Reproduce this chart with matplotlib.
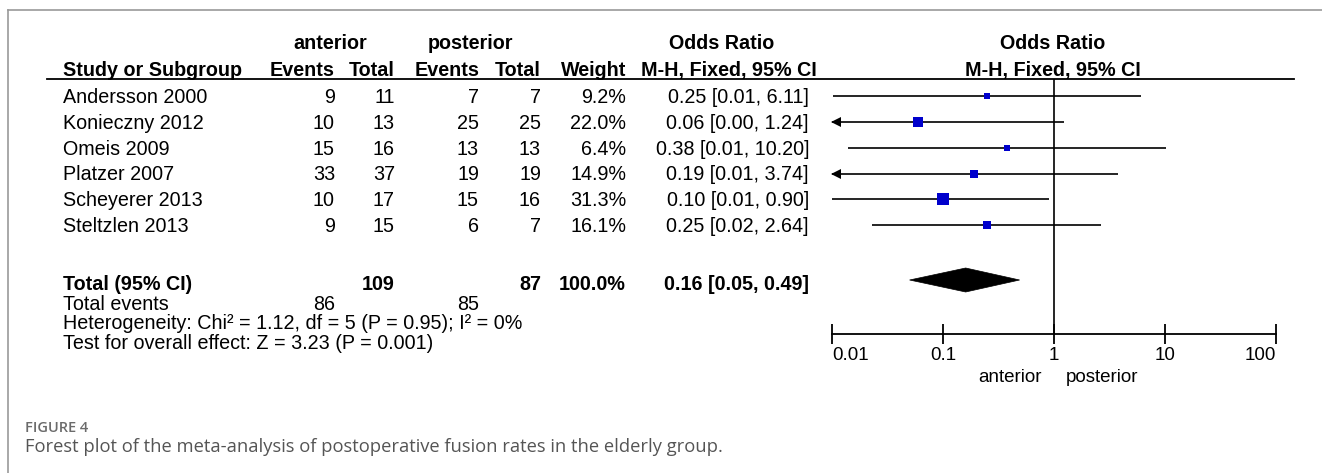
import numpy as np
import matplotlib
matplotlib.use("Agg")
import matplotlib.pyplot as plt
from matplotlib.lines import Line2D
from matplotlib.patches import Polygon
from matplotlib.transforms import blended_transform_factory

# ---------------- data ----------------
studies = ["Andersson 2000", "Konieczny 2012", "Omeis 2009", "Platzer 2007",
           "Scheyerer 2013", "Steltzlen 2013"]
events_ant = [9, 10, 15, 33, 10, 9]
total_ant = [11, 13, 16, 37, 17, 15]
events_post = [7, 25, 13, 19, 15, 6]
total_post = [7, 25, 13, 19, 16, 7]
weights = [9.2, 22.0, 6.4, 14.9, 31.3, 16.1]
odds = [0.25, 0.06, 0.38, 0.19, 0.10, 0.25]
ci_low = [0.0103, 0.003, 0.014, 0.0097, 0.0101, 0.023]
ci_high = [6.11, 1.24, 10.20, 3.74, 0.90, 2.64]
pooled_or = 0.16
pooled_low = 0.05
pooled_high = 0.49
pooled_weight = 100.0
heterogeneity = "Heterogeneity: Chi\u00b2 = 1.12, df = 5 (P = 0.95); I\u00b2 = 0%"
overall = "Test for overall effect: Z = 3.23 (P = 0.001)"
group_a = "anterior"
group_b = "posterior"
tick_values = [0.01, 0.1, 1, 10, 100]
tick_labels = ["0.01", "0.1", "1", "10", "100"]
caption_title = "FIGURE 4"
caption_text = ("Forest plot of the meta-analysis of postoperative fusion rates "
                "in the elderly group.")

# ---------------- layout ----------------
W, H = 1322, 473
FONT = "Liberation Sans"
FS = 14.2
fig = plt.figure(figsize=(W / 100, H / 100), dpi=100)
fig.patch.set_facecolor("white")


def fx(px):
    return px / W


def fy(py):
    return 1 - py / H


ROW0, ROWH = 97.5, 25.8


def r(py):
    return (py - ROW0) / ROWH


ax_l, ax_r, ax_t, ax_b = 832, 1276, 79, 334
ax = fig.add_axes([fx(ax_l), fy(ax_b), (ax_r - ax_l) / W, (ax_b - ax_t) / H])
ax.set_xscale("log")
ax.set_xlim(tick_values[0], tick_values[-1])
ax.set_ylim(r(ax_b), r(ax_t))
ax.patch.set_visible(False)
for s in ["top", "left", "right"]:
    ax.spines[s].set_visible(False)
ax.spines["bottom"].set_linewidth(1.3)
ax.set_yticks([])
ax.set_xticks(tick_values)
ax.set_xticklabels(tick_labels)
ax.xaxis.set_minor_locator(matplotlib.ticker.NullLocator())
ax.tick_params(axis="x", direction="inout", length=15, width=1.3, pad=2,
               labelsize=13.5)
xl = ax.get_xticklabels()
for lab in xl:
    lab.set_fontfamily(FONT)
xl[0].set_horizontalalignment("left")
xl[-1].set_horizontalalignment("right")

ax.axvline(1, color="black", lw=1.2)

blue = "#0000CC"
for i in range(len(studies)):
    y = i - 0.05
    lo = max(ci_low[i], tick_values[0])
    ax.plot([lo, ci_high[i]], [y, y], color="black", lw=1.2, solid_capstyle="butt")
    if ci_low[i] < tick_values[0]:
        ax.plot([tick_values[0] * 10 ** (4.5 / 111)], [y], marker="<", ms=7,
                color="black", mew=0, clip_on=False)
    ax.plot([odds[i]], [y], marker="s", ms=1.48 * np.sqrt(weights[i]),
            color=blue, mew=0, zorder=3)

# pooled diamond
yd = r(280)
hd = 12 / ROWH
diamond = Polygon([[pooled_low, yd], [pooled_or, yd - hd], [pooled_high, yd],
                   [pooled_or, yd + hd]], closed=True, facecolor="black",
                  edgecolor="black", lw=0.5, zorder=3)
ax.add_patch(diamond)

# ---------------- table text ----------------
tr = blended_transform_factory(fig.transFigure, ax.transData)


def t(px, row, s, ha="right", bold=False, size=FS):
    fig.text(fx(px), row, s, transform=tr, ha=ha, va="center",
             fontsize=size, fontfamily=FONT,
             fontweight="bold" if bold else "normal", color="black")


col_ev_a, col_tot_a, col_ev_p, col_tot_p, col_w, col_or = 335, 395, 479, 541, 626, 809
x_name = 63

# headers
t(330, r(43), group_a, ha="center", bold=True)
t(470, r(43), group_b, ha="center", bold=True)
t(722, r(43), "Odds Ratio", ha="center", bold=True)
t(1053, r(43), "Odds Ratio", ha="center", bold=True)
t(x_name, r(70), "Study or Subgroup", ha="left", bold=True)
t(col_ev_a, r(70), "Events", bold=True)
t(col_tot_a, r(70), "Total", bold=True)
t(col_ev_p, r(70), "Events", bold=True)
t(col_tot_p, r(70), "Total", bold=True)
t(col_w, r(70), "Weight", bold=True)
t(729, r(70), "M-H, Fixed, 95% CI", ha="center", bold=True)
t(1053, r(70), "M-H, Fixed, 95% CI", ha="center", bold=True)

for i, name in enumerate(studies):
    t(x_name, i, name, ha="left")
    t(col_ev_a, i, str(events_ant[i]))
    t(col_tot_a, i, str(total_ant[i]))
    t(col_ev_p, i, str(events_post[i]))
    t(col_tot_p, i, str(total_post[i]))
    t(col_w, i, f"{weights[i]:.1f}%")
    t(col_or, i, f"{odds[i]:.2f} [{ci_low[i]:.2f}, {ci_high[i]:.2f}]")

rt = r(284)
t(x_name, rt, "Total (95% CI)", ha="left", bold=True)
t(col_tot_a, rt, str(sum(total_ant)), bold=True)
t(col_tot_p, rt, str(sum(total_post)), bold=True)
t(col_w, rt, f"{pooled_weight:.1f}%", bold=True)
t(col_or, rt, f"{pooled_or:.2f} [{pooled_low:.2f}, {pooled_high:.2f}]", bold=True)

re_ = r(304)
t(x_name, re_, "Total events", ha="left")
t(col_ev_a, re_, str(sum(events_ant)))
t(col_ev_p, re_, str(sum(events_post)))
t(x_name, r(323), heterogeneity, ha="left")
t(x_name, r(343), overall, ha="left")

# group labels under axis
fig.text(fx(1010), fy(378), group_a, ha="center", va="center", fontsize=13.5,
         fontfamily=FONT)
fig.text(fx(1102), fy(378), group_b, ha="center", va="center", fontsize=13.5,
         fontfamily=FONT)

# header underline
fig.add_artist(Line2D([fx(47), fx(1294)], [fy(79.5), fy(79.5)], color="black",
                      lw=1.3))
# frame
frame_c = "#999999"
fig.add_artist(Line2D([fx(8), fx(W)], [fy(10), fy(10)], color=frame_c, lw=1.2))
fig.add_artist(Line2D([fx(8), fx(8)], [fy(10), fy(H)], color=frame_c, lw=1.2))

# caption
fig.text(fx(25), fy(428), caption_title, ha="left", va="center", fontsize=10.5,
         fontfamily="Open Sans", fontweight="semibold", color="#6b6b6b")
fig.text(fx(25), fy(447), caption_text, ha="left", va="center", fontsize=13.2,
         fontfamily="Open Sans", color="#555555")

fig.savefig("out.png", dpi=100, facecolor="white")
